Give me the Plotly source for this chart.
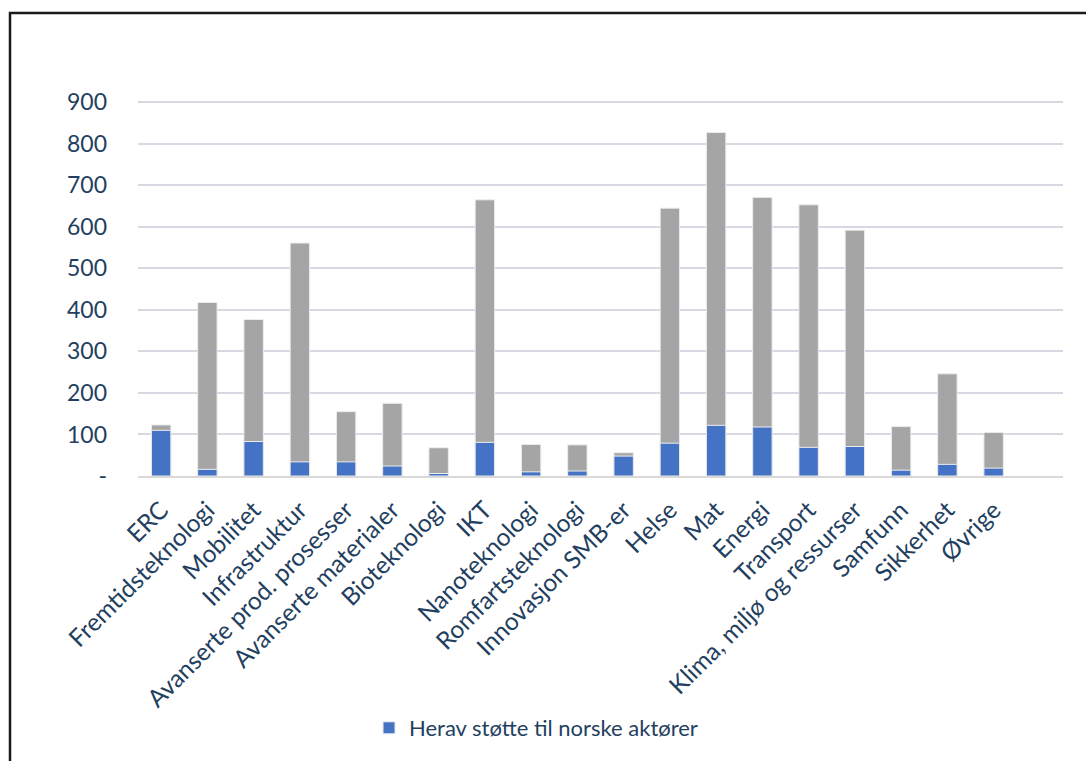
import plotly.graph_objects as go

# Programområder
categories = [
    "ERC", "Fremtidsteknologi", "Mobilitet", "Infrastruktur",
    "Avanserte prod. prosesser", "Avanserte materialer", "Bioteknologi",
    "IKT", "Nanoteknologi", "Romfartsteknologi", "Innovasjon SMB-er",
    "Helse", "Mat", "Energi", "Transport", "Klima, miljø og ressurser",
    "Samfunn", "Sikkerhet", "Øvrige",
]

# Total støtte per område
total_support = [123, 418, 377, 561, 155, 175, 68, 665, 76, 75, 56,
                 645, 827, 671, 653, 592, 119, 246, 105]

# Herav støtte til norske aktører
norwegian_support = [110, 16, 83, 34, 34, 24, 6, 81, 10, 12, 48,
                     79, 122, 118, 69, 71, 14, 28, 19]

y_tick_values = [0, 100, 200, 300, 400, 500, 600, 700, 800, 900]
y_tick_labels = ["-", "100", "200", "300", "400", "500", "600", "700", "800", "900"]

FONT = "Lato"
TEXT_COLOR = "#1F4060"

W, H = 1086, 761
L, R, T, B = 138, 23, 101, 285
pw, ph = W - L - R, H - T - B


def px_x(p):
    return (p - L) / pw


def px_y(p):
    return (H - B - p) / ph


fig = go.Figure()
fig.add_trace(go.Bar(
    x=categories, y=total_support, name="Total",
    marker=dict(color="#A5A5A5", line=dict(color="#EDEDED", width=1)),
    width=0.42, showlegend=False,
))
fig.add_trace(go.Bar(
    x=categories, y=norwegian_support, name="Herav støtte til norske aktører",
    marker=dict(color="#4472C4", line=dict(color="#EDEDED", width=1)),
    width=0.42,
))

fig.update_layout(
    width=W, height=H,
    margin=dict(l=L, r=R, t=T, b=B, autoexpand=False),
    barmode="overlay",
    plot_bgcolor="white", paper_bgcolor="white",
    font=dict(family=FONT, color=TEXT_COLOR, size=22),
    xaxis=dict(
        range=[-0.5, 19.5], tickangle=-45, showgrid=False,
        showline=True, linecolor="#D9D9D9", linewidth=2,
        ticks="", ticklabelstandoff=8,
        tickfont=dict(family=FONT, size=24.5, color=TEXT_COLOR),
    ),
    yaxis=dict(
        range=[0, 903], tickvals=y_tick_values, ticktext=y_tick_labels,
        showgrid=True, gridcolor="#D6D9E4", gridwidth=2,
        zeroline=False, showline=False, ticks="", ticklabelstandoff=30,
        tickfont=dict(family=FONT, size=23, color=TEXT_COLOR),
    ),
    legend=dict(
        orientation="h", x=px_x(536), y=px_y(728),
        xanchor="center", yanchor="middle",
        font=dict(family=FONT, size=22, color=TEXT_COLOR),
        bgcolor="rgba(0,0,0,0)",
    ),
    shapes=[dict(
        type="rect", xref="paper", yref="paper",
        x0=px_x(10), x1=px_x(1095), y0=px_y(780), y1=px_y(13),
        line=dict(color="#1A1A1A", width=2.5), fillcolor="rgba(0,0,0,0)",
        layer="above",
    )],
)

fig.write_html("out.html")
